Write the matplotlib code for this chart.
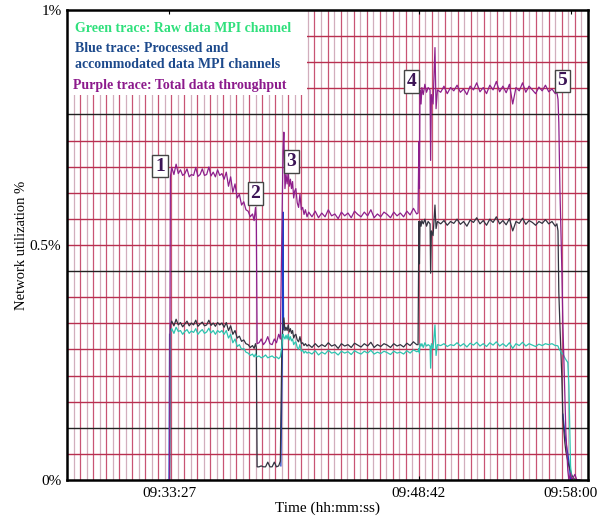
import numpy as np
import matplotlib
matplotlib.use("Agg")
import matplotlib.pyplot as plt
from matplotlib.patches import Rectangle

plt.rcParams['font.family'] = ['Liberation Serif', 'DejaVu Serif']

# ==========================================
# DATA (time in seconds after 09:33:27, utilization in %)
# ==========================================
t_sec = [
    -3, 2, 5, 10, 18, 26, 34, 42, 50, 58, 66, 74, 82, 90, 98, 106, 114, 122, 130, 138,
    146, 154, 162, 170, 178,
    186, 194, 202, 210, 218, 226, 234, 242, 250, 258, 266, 274, 282, 290, 298, 306, 312, 317, 320,
    323, 330, 338, 346, 354, 362, 370, 378, 386, 394, 402, 408,
    414, 418, 421, 425, 429, 433, 437, 441, 445, 449, 453, 457, 461, 465, 470, 475, 480, 485,
    490, 495, 500, 506,
    512, 524, 536, 548, 560, 572, 584, 596, 608, 620, 632, 644, 656, 668, 680, 692, 704, 716,
    728, 740, 752, 764, 776, 788, 800, 812, 824, 836, 848, 860, 872, 884, 896, 908, 913,
    916, 918, 920, 924, 927, 932, 938, 944, 950, 957, 959, 962, 968, 975, 979, 984,
    996, 1008, 1020, 1032, 1044, 1056, 1068, 1080, 1092, 1104, 1116, 1128, 1140, 1152, 1164,
    1176, 1188, 1200, 1212, 1224, 1236, 1248, 1260, 1272, 1284, 1296, 1308, 1320, 1332, 1344,
    1356, 1368, 1380, 1392, 1404, 1416,
    1422, 1426, 1429, 1433, 1440, 1444, 1451, 1455, 1462, 1466, 1472, 1477, 1488, 1495, 1506,
]

total_pct = [
    0, 0, 0.645, 0.665, 0.65, 0.672, 0.652, 0.66, 0.648, 0.652, 0.662, 0.645, 0.65, 0.648, 0.665,
    0.646, 0.65, 0.662, 0.648, 0.65, 0.666, 0.647, 0.655, 0.645, 0.66,
    0.648, 0.652, 0.64, 0.655, 0.625, 0.645, 0.612, 0.63, 0.6, 0.608, 0.585, 0.592, 0.575, 0.572,
    0.56, 0.566, 0.552, 0.58, 0.556,
    0.29, 0.292, 0.3, 0.288, 0.294, 0.305, 0.29, 0.288, 0.3, 0.292, 0.31, 0.3,
    0.55, 0.7, 0.74, 0.62, 0.65, 0.63, 0.655, 0.625, 0.64, 0.62, 0.635, 0.6, 0.615, 0.62, 0.59,
    0.58, 0.608, 0.575, 0.58, 0.565, 0.575, 0.56,
    0.57, 0.56, 0.572, 0.558, 0.568, 0.56, 0.575, 0.562, 0.566, 0.556, 0.57, 0.562, 0.568, 0.558,
    0.572, 0.565, 0.56, 0.57, 0.562, 0.575, 0.558, 0.566, 0.56, 0.57, 0.565, 0.558, 0.57, 0.562,
    0.568, 0.56, 0.572, 0.564, 0.578, 0.566, 0.568,
    0.72, 0.62, 0.83, 0.8, 0.835, 0.82, 0.842, 0.825, 0.835, 0.83, 0.68, 0.82, 0.8, 0.92, 0.79, 0.83,
    0.825, 0.838, 0.822, 0.835, 0.828, 0.84, 0.825, 0.832, 0.82, 0.838, 0.83, 0.845, 0.826, 0.835,
    0.822, 0.84, 0.83, 0.848, 0.826, 0.838, 0.824, 0.842, 0.8, 0.835, 0.828, 0.845, 0.825, 0.838,
    0.83, 0.822, 0.836, 0.828, 0.84, 0.826, 0.832, 0.822,
    0.825, 0.81, 0.76, 0.62, 0.45, 0.33, 0.18, 0.1, 0.02, 0.0, 0.015, 0.0, 0.012, 0.0, 0.0,
]

processed_pct = [
    0, 0, 0.33, 0.338, 0.328, 0.342, 0.33, 0.335, 0.326, 0.332, 0.338, 0.328, 0.334, 0.33, 0.34,
    0.327, 0.332, 0.336, 0.328, 0.33, 0.34, 0.329, 0.334, 0.327, 0.335,
    0.33, 0.334, 0.325, 0.335, 0.318, 0.328, 0.31, 0.318, 0.302, 0.306, 0.295, 0.298, 0.29, 0.288,
    0.282, 0.286, 0.28, 0.29, 0.282,
    0.028, 0.028, 0.03, 0.028, 0.028, 0.038, 0.028, 0.028, 0.038, 0.028, 0.03, 0.04,
    0.3, 0.33, 0.345, 0.318, 0.325, 0.318, 0.33, 0.315, 0.322, 0.312, 0.318, 0.302, 0.308, 0.31,
    0.298, 0.294, 0.305, 0.29, 0.292, 0.286, 0.29, 0.285,
    0.288, 0.282, 0.29, 0.283, 0.288, 0.284, 0.292, 0.285, 0.288, 0.28, 0.29, 0.285, 0.288, 0.282,
    0.291, 0.287, 0.283, 0.29, 0.285, 0.293, 0.282, 0.288, 0.284, 0.29, 0.287, 0.282, 0.29, 0.285,
    0.288, 0.283, 0.291, 0.286, 0.294, 0.288, 0.288,
    0.55, 0.46, 0.55, 0.54, 0.552, 0.545, 0.555, 0.54, 0.55, 0.545, 0.44, 0.53, 0.52, 0.585, 0.535, 0.55,
    0.545, 0.552, 0.542, 0.55, 0.546, 0.555, 0.544, 0.55, 0.54, 0.553, 0.548, 0.558, 0.545, 0.552,
    0.542, 0.555, 0.548, 0.56, 0.545, 0.552, 0.543, 0.556, 0.53, 0.55, 0.546, 0.557, 0.544, 0.552,
    0.548, 0.542, 0.55, 0.546, 0.554, 0.545, 0.55, 0.54,
    0.545, 0.53, 0.4, 0.33, 0.22, 0.13, 0.08, 0.06, 0.04, 0.03, 0.02, 0.01, 0.0, 0.0, 0.0,
]

raw_pct = [
    0, 0, 0.315, 0.322, 0.312, 0.325, 0.316, 0.318, 0.31, 0.316, 0.32, 0.312, 0.317, 0.314, 0.322,
    0.31, 0.316, 0.32, 0.312, 0.315, 0.323, 0.313, 0.318, 0.31, 0.318,
    0.314, 0.318, 0.31, 0.318, 0.302, 0.31, 0.292, 0.3, 0.284, 0.288, 0.278, 0.28, 0.272, 0.27,
    0.265, 0.268, 0.262, 0.268, 0.264,
    0.262, 0.264, 0.26, 0.262, 0.266, 0.26, 0.262, 0.264, 0.26, 0.262, 0.258, 0.262,
    0.285, 0.31, 0.305, 0.3, 0.308, 0.3, 0.31, 0.298, 0.305, 0.296, 0.3, 0.288, 0.292, 0.294,
    0.282, 0.278, 0.288, 0.274, 0.276, 0.27, 0.274, 0.27,
    0.272, 0.268, 0.275, 0.266, 0.272, 0.268, 0.276, 0.27, 0.272, 0.266, 0.274, 0.27, 0.273, 0.267,
    0.275, 0.271, 0.268, 0.274, 0.27, 0.276, 0.268, 0.272, 0.269, 0.274, 0.271, 0.267, 0.274, 0.27,
    0.272, 0.268, 0.275, 0.27, 0.277, 0.273, 0.274,
    0.28, 0.27, 0.29, 0.285, 0.29, 0.282, 0.292, 0.285, 0.288, 0.285, 0.238, 0.29, 0.28, 0.33, 0.265, 0.288,
    0.286, 0.29, 0.284, 0.288, 0.286, 0.292, 0.285, 0.29, 0.283, 0.291, 0.287, 0.293, 0.285, 0.29,
    0.284, 0.292, 0.287, 0.294, 0.285, 0.29, 0.284, 0.292, 0.28, 0.29, 0.286, 0.293, 0.285, 0.29,
    0.287, 0.284, 0.289, 0.286, 0.29, 0.288, 0.29, 0.286,
    0.286, 0.285, 0.28, 0.276, 0.27, 0.268, 0.26, 0.256, 0.25, 0.2, 0.03, 0.0, 0.0, 0.0, 0.0,
]

# blue trace mostly hidden under the processed one; only its spikes show
blue_t = [-3, 0, 2, np.nan, 410, 416, 418, 420, np.nan, 1444, 1451, 1458, 1466, 1472]
blue_pct = [0, 0, 0.31, np.nan, 0.03, 0.3, 0.57, 0.32, np.nan, 0.14, 0.1, 0.07, 0.04, 0.0]

tick_secs = [0, 915, 1473]
tick_labels = ["09:33:27", "09:48:42", "09:58:00"]

markers = ["1", "2", "3", "4", "5"]
marker_t = [-33, 317, 449, 889, 1442]
marker_pct = [0.668, 0.61, 0.678, 0.848, 0.849]

legend_lines = [
    ("Green trace: Raw data MPI channel", "#2fe07c"),
    ("Blue trace: Processed and\naccommodated data MPI channels", "#1d4a8c"),
    ("Purple trace: Total data throughput", "#8c1a8c"),
]

x_min, x_max = -374, 1536

# ==========================================
# FIGURE
# ==========================================
fig = plt.figure(figsize=(6.07, 5.17), dpi=100)
ax = fig.add_axes([67 / 607, 1 - 480 / 517, 521 / 607, 470 / 517])
ax.set_xlim(x_min, x_max)
ax.set_ylim(0, 1)

# chart-recorder style grid
for i, gx in enumerate(np.linspace(x_min, x_max, 81)[1:-1]):
    ax.axvline(gx, color="#c85474" if i % 2 else "#d2aebd", lw=0.9, zorder=0.5)
for k, gy in enumerate(np.linspace(0, 1, 19)[1:-1], start=1):
    ax.axhline(gy, color="#222222" if k % 6 == 2 else "#b83050", lw=1.0, zorder=0.6)

# white panel behind the legend text
ax.add_patch(Rectangle((0, 1 - 85 / 470), 240 / 521, 85 / 470, transform=ax.transAxes,
                       facecolor="white", edgecolor="none", zorder=1))

ax.plot(blue_t, blue_pct, color="#1f3fc8", lw=0.9, zorder=2)
ax.plot(t_sec, processed_pct, color="#333340", lw=0.9, zorder=3)
ax.plot(t_sec, raw_pct, color="#2ec4b0", lw=0.9, zorder=4)
ax.plot(t_sec, total_pct, color="#8e1f8c", lw=0.9, zorder=5)

for lab, mt, mv in zip(markers, marker_t, marker_pct):
    ax.text(mt, mv, lab, ha="center", va="center", fontsize=14, fontweight="bold",
            color="#3b1456", zorder=6,
            bbox=dict(boxstyle="square,pad=0.14", facecolor="white", edgecolor="#444444", lw=1))

ax.text(0.015, 1 - 19 / 470, legend_lines[0][0], transform=ax.transAxes, fontsize=10,
        fontweight="bold", color=legend_lines[0][1], va="center", zorder=6)
ax.text(0.015, 1 - 47 / 470, legend_lines[1][0], transform=ax.transAxes, fontsize=10,
        fontweight="bold", color=legend_lines[1][1], va="center", linespacing=1.3, zorder=6)
ax.text(0.012, 1 - 76 / 470, legend_lines[2][0], transform=ax.transAxes, fontsize=10,
        fontweight="bold", color=legend_lines[2][1], va="center", zorder=6)

ax.set_xticks(tick_secs)
ax.set_xticklabels(tick_labels, fontsize=11)
ax.set_yticks([0, 0.5, 1])
ax.set_yticklabels(["0%", "0.5%", "1%"], fontsize=11)
ax.tick_params(axis="x", direction="in", length=3, pad=5, top=True)
ax.tick_params(axis="y", length=0, pad=4)

for s in ax.spines.values():
    s.set_linewidth(1.8)
    s.set_color("black")
    s.set_zorder(7)

ax.set_xlabel("Time (hh:mm:ss)", fontsize=11)
ax.xaxis.set_label_coords(0.5, -0.046)
ax.set_ylabel("Network utilization %", fontsize=10.5)
ax.yaxis.set_label_coords(-0.075, 0.5)

fig.savefig("out.png", dpi=100, facecolor="white")
